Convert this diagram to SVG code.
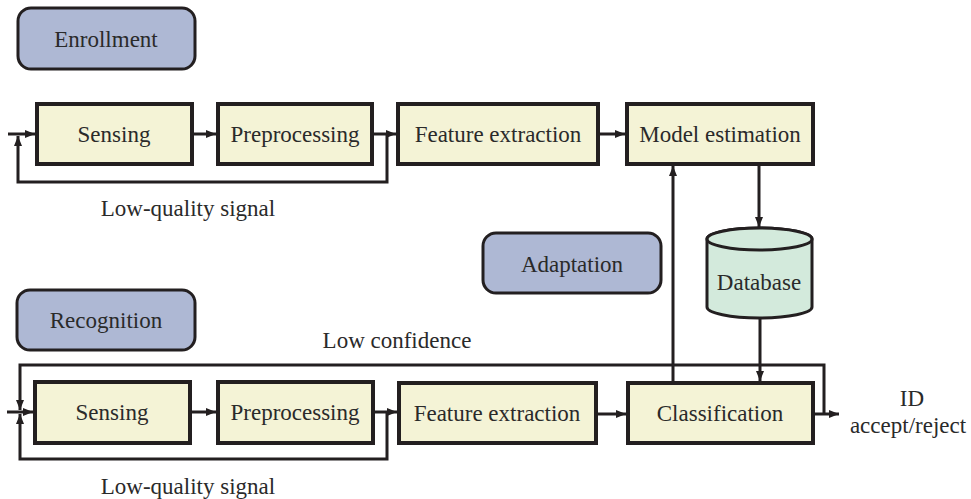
<svg xmlns="http://www.w3.org/2000/svg" width="971" height="499" viewBox="0 0 971 499">
<style>
text{font-size:23px;fill:#2a2a2a;text-anchor:middle}
.box{fill:#f4f3d6;stroke:#231f20;stroke-width:4}
.phase{fill:#aeb8d4;stroke:#231f20;stroke-width:3}
.db{fill:#d3eadc;stroke:#231f20;stroke-width:3}
.c{fill:none;stroke:#231f20;stroke-width:3}
</style>
<defs>
<marker id="ah" viewBox="0 0 10 8" refX="10" refY="4" markerWidth="10" markerHeight="8" markerUnits="userSpaceOnUse" orient="auto">
<path d="M0,0 L10,4 L0,8 Z" fill="#231f20"/>
</marker>
</defs>
<g font-family="Liberation Serif, DejaVu Serif, serif">
<g id="enrollment"><rect class="phase" x="18" y="8" width="177" height="61" rx="13"/><text x="106" y="47">Enrollment</text></g>
<g id="recognition"><rect class="phase" x="17" y="290" width="178" height="60" rx="13"/><text x="106" y="328">Recognition</text></g>
<g id="adaptation"><rect class="phase" x="483" y="233" width="178" height="60" rx="13"/><text x="572" y="272">Adaptation</text></g>
<g id="sensing1"><rect class="box" x="37" y="104" width="155" height="60"/><text x="114" y="142">Sensing</text></g>
<g id="preproc1"><rect class="box" x="218" y="104" width="154" height="60"/><text x="295" y="142">Preprocessing</text></g>
<g id="feat1"><rect class="box" x="398" y="104" width="200" height="60"/><text x="498" y="142">Feature extraction</text></g>
<g id="model"><rect class="box" x="627" y="104" width="186" height="60"/><text x="720" y="142">Model estimation</text></g>
<g id="database"><path class="db" d="M707,239 V307 A52.5,11 0 0 0 812,307 V239 A52.5,11 0 0 0 707,239 Z"/><ellipse class="db" cx="759.5" cy="239" rx="52.5" ry="11"/><text x="759" y="290">Database</text></g>
<g id="sensing2"><rect class="box" x="35" y="382" width="155" height="61"/><text x="112" y="420">Sensing</text></g>
<g id="preproc2"><rect class="box" x="218" y="382" width="155" height="61"/><text x="295" y="420">Preprocessing</text></g>
<g id="feat2"><rect class="box" x="399" y="383" width="197" height="60"/><text x="497" y="421">Feature extraction</text></g>
<g id="classif"><rect class="box" x="628" y="383" width="185" height="60"/><text x="720" y="421">Classification</text></g>
<g id="connectors">
<path class="c" d="M8,134 H35" marker-end="url(#ah)"/>
<path class="c" d="M192,134 H216" marker-end="url(#ah)"/>
<path class="c" d="M372,134 H396" marker-end="url(#ah)"/>
<path class="c" d="M387,134 V182 H18 V136" marker-end="url(#ah)"/>
<path class="c" d="M598,134 H625" marker-end="url(#ah)"/>
<path class="c" d="M759,164 V227" marker-end="url(#ah)"/>
<path class="c" d="M673,383 V166" marker-end="url(#ah)"/>
<path class="c" d="M760,318 V381" marker-end="url(#ah)"/>
<path class="c" d="M7,412 H33" marker-end="url(#ah)"/>
<path class="c" d="M190,412 H216" marker-end="url(#ah)"/>
<path class="c" d="M373,412 H397" marker-end="url(#ah)"/>
<path class="c" d="M596,414 H626" marker-end="url(#ah)"/>
<path class="c" d="M387,412 V459 H20 V414" marker-end="url(#ah)"/>
<path class="c" d="M824,414 V365 H20 V410" marker-end="url(#ah)"/>
<path class="c" d="M813,414 H839" marker-end="url(#ah)"/>
</g>
<text x="188" y="216">Low-quality signal</text>
<text x="188" y="494">Low-quality signal</text>
<text x="397" y="348">Low confidence</text>
<text x="912" y="406">ID</text>
<text x="908" y="433">accept/reject</text>
</g>
</svg>
